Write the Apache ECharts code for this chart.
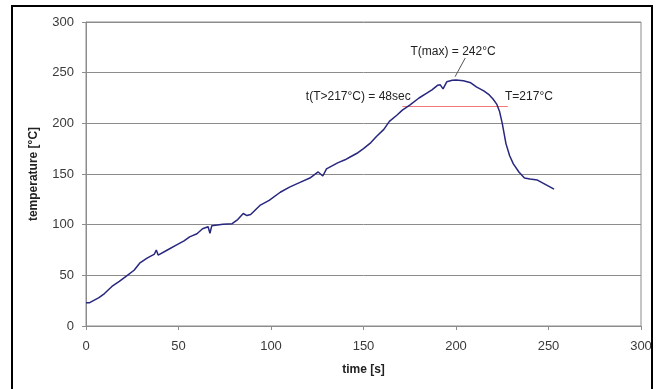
<!DOCTYPE html>
<html><head><meta charset="utf-8">
<script src="https://cdn.jsdelivr.net/npm/echarts@6/dist/echarts.min.js"></script>
<style>html,body{margin:0;padding:0;background:#fff}#c{width:657px;height:389px}</style>
</head><body><div id="c"></div>
<script>
const times = [0,2,4,7,10,14,18,22,26,29,33,37,38,39,40,44,49,53,56,60,63,66,67,68,70,74,79,82,85,87,89,94,99,105,110,116,121,125.5,128,130,133,136,140,143,147,150,154,157,161,164,168,171,175,180,184,187,190,191.5,193,195,198,200,204,208,211,215,218,220,222,223.5,225,227,229,231,234,237,240,244,248,253];
const temps = [23,23,25,28,32,39,44,49.5,55,62,67,71,75,70,71,75,80,84,88,91,96,98,91.5,99,99.5,100.5,101,105,111,109,110,119,124,132,137,142,146,152,148,155,158,161,164,167,171,175,181,187,194,202,208,213,218,225,229.5,233,237.5,238,234,241,242.5,242.8,242,240,236,232,228,224,219,212,200,180,168,160,152,146,145,144,140,135];
const xTicks = [0,50,100,150,200,250,300];
const yTicks = [0,50,100,150,200,250,300];
const threshold = 217;
const thresholdSpan = [171,228];
const tmaxLabel = 'T(max) = 242°C';
const durLabel = 't(T>217°C) = 48sec';
const thrLabel = 'T=217°C';
const leader = [[205,264.5],[199.5,246]];

const font = 'Liberation Sans, Arial, sans-serif';
const chart = echarts.init(document.getElementById('c'));
const gridColor = '#8c8c8c';
chart.setOption({
  animation:false,
  backgroundColor:'#fff',
  textStyle:{fontFamily:font},
  graphic:[{type:'rect',shape:{x:12,y:6,width:640,height:400},style:{fill:'none',stroke:'#000',lineWidth:2},z:100}],
  grid:{left:86,right:16,top:22,bottom:63,show:true,borderColor:gridColor,borderWidth:1,backgroundColor:'#fff'},
  xAxis:{type:'value',min:xTicks[0],max:xTicks[xTicks.length-1],interval:50,
    name:'time [s]',nameLocation:'middle',nameGap:38,
    nameTextStyle:{fontFamily:font,fontSize:12,fontWeight:'bold',color:'#222'},
    axisLine:{lineStyle:{color:gridColor,width:1}},
    axisTick:{show:true,length:4,lineStyle:{color:gridColor}},
    axisLabel:{fontFamily:font,fontSize:13,color:'#3a3a3a',margin:14},
    splitLine:{show:false}},
  yAxis:{type:'value',min:yTicks[0],max:yTicks[yTicks.length-1],interval:50,
    name:'temperature [°C]',nameLocation:'middle',nameGap:46,nameRotate:90,
    nameTextStyle:{fontFamily:font,fontSize:12,fontWeight:'bold',color:'#222'},
    axisLine:{show:true,lineStyle:{color:gridColor,width:1}},
    axisTick:{show:true,length:4,lineStyle:{color:gridColor}},
    axisLabel:{fontFamily:font,fontSize:13,color:'#3a3a3a',margin:12},
    splitLine:{show:true,lineStyle:{color:gridColor,width:1}}},
  series:[
    {type:'line',data:times.map((t,i)=>[t,temps[i]]),showSymbol:false,symbol:'none',
     lineStyle:{color:'#27277f',width:1.5},z:5,
     markLine:{silent:true,symbol:['none','none'],label:{show:false},
       lineStyle:{color:'#f07878',width:1,type:'solid'},
       data:[[{coord:[thresholdSpan[0],threshold]},{coord:[thresholdSpan[1],threshold]}]]},
     markPoint:{symbol:'circle',symbolSize:0,
       label:{show:true,fontFamily:font,fontSize:12,color:'#222'},
       data:[
         {coord:[198.4,270.4],label:{formatter:tmaxLabel,position:'inside'}},
         {coord:[175.5,226],label:{formatter:durLabel,position:'left',distance:0}},
         {coord:[226.5,226],label:{formatter:thrLabel,position:'right',distance:0}}
       ]}},
    {type:'line',data:leader,showSymbol:false,symbol:'none',lineStyle:{color:'#555',width:1},z:4}
  ]
});
</script></body></html>
